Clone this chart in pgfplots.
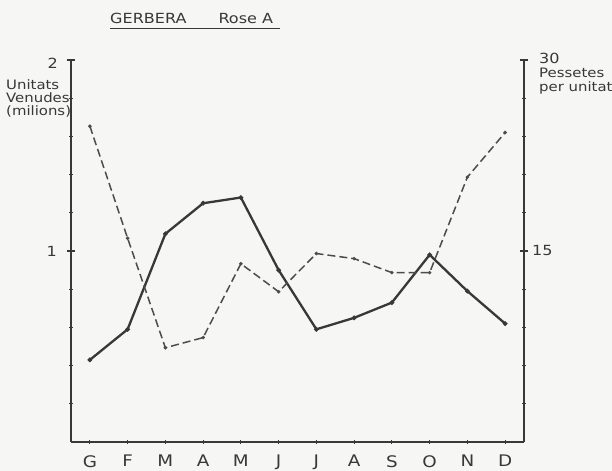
\documentclass[border=0pt]{standalone}
\usepackage{fontspec}
\setmainfont{DejaVu Sans}[FakeStretch=1.15]
\usepackage{pgfplots}
\pgfplotsset{compat=1.18}
\definecolor{ink}{HTML}{383838}
\definecolor{paper}{HTML}{F6F6F4}
\begin{document}
\begin{tikzpicture}[x=1bp,y=1bp]
\fill[paper] (0,0) rectangle (612,471);
\useasboundingbox (0,0) rectangle (612,471);
\pgfplotsset{
  common/.style={
    at={(71bp,29bp)}, anchor=south west,
    scale only axis, width=453bp, height=382bp,
    xmin=-0.5, xmax=11.5,
    axis line style={ink, line width=1.5bp},
    tick style={ink, line width=1.1bp},
    tick align=center,
    major tick length=3.5bp,
    extra y tick style={major tick length=8bp},
    clip=false,
  }
}
\begin{axis}[common,
  axis x line*=bottom, axis y line*=left,
  ymin=0, ymax=2,
  xtick={0,...,11},
  xticklabels={G,F,M,A,M,J,J,A,S,O,N,D},
  xticklabel style={font=\fontsize{16}{16}\selectfont, text=ink, yshift=-8bp},
  ytick={0.2,0.4,0.6,0.8,1.2,1.4,1.6,1.8}, yticklabels={},
  extra y ticks={1,2}, extra y tick labels={},
]
\addplot[ink, line width=2.3bp, mark=*, mark size=1bp] coordinates {
 (0,0.43) (1,0.59) (2,1.09) (3,1.25) (4,1.28) (5,0.90)
 (6,0.59) (7,0.65) (8,0.73) (9,0.98) (10,0.79) (11,0.62)};
\node[anchor=east, inner sep=0, text=ink, font=\fontsize{14}{14}\selectfont, xshift=-14bp] at (axis cs:-0.5,1) {1};
\node[anchor=east, inner sep=0, text=ink, font=\fontsize{14}{14}\selectfont, xshift=-13bp, yshift=-3bp] at (axis cs:-0.5,2) {2};
\end{axis}
\begin{axis}[common,
  axis x line=none, axis y line*=right,
  ymin=0, ymax=30,
  ytick={3,6,9,12,18,21,24,27}, yticklabels={},
  extra y ticks={15,30}, extra y tick labels={},
]
\addplot[ink!90, line width=1.5bp, dash pattern=on 8bp off 4bp, mark=*, mark size=0.9bp, mark options={solid}] coordinates {
 (0,24.8) (1,16.0) (2,7.4) (3,8.2) (4,14.0) (5,11.8)
 (6,14.8) (7,14.4) (8,13.3) (9,13.3) (10,20.8) (11,24.3)};
\node[anchor=west, inner sep=0, text=ink, font=\fontsize{14}{14}\selectfont, xshift=8bp] at (axis cs:11.5,15) {15};
\node[anchor=west, inner sep=0, text=ink, font=\fontsize{14}{14}\selectfont, xshift=15bp, yshift=2bp] at (axis cs:11.5,30) {30};
\end{axis}
% titles and axis names
\node[anchor=base west, inner sep=0, text=ink, font=\fontsize{14}{14}\selectfont] at (110,447) {GERBERA\hspace{32bp}Rose A};
\draw[ink, line width=0.9bp] (110,443) -- (280,443);
\node[anchor=north west, inner sep=0, align=left, text=ink, font=\fontsize{13}{13.5}\selectfont] at (6,392) {Unitats\\Venudes\\(milions)};
\node[anchor=north west, inner sep=0, align=left, text=ink, font=\fontsize{13}{13.5}\selectfont] at (539,403) {Pessetes\\per unitat};
\end{tikzpicture}
\end{document}
